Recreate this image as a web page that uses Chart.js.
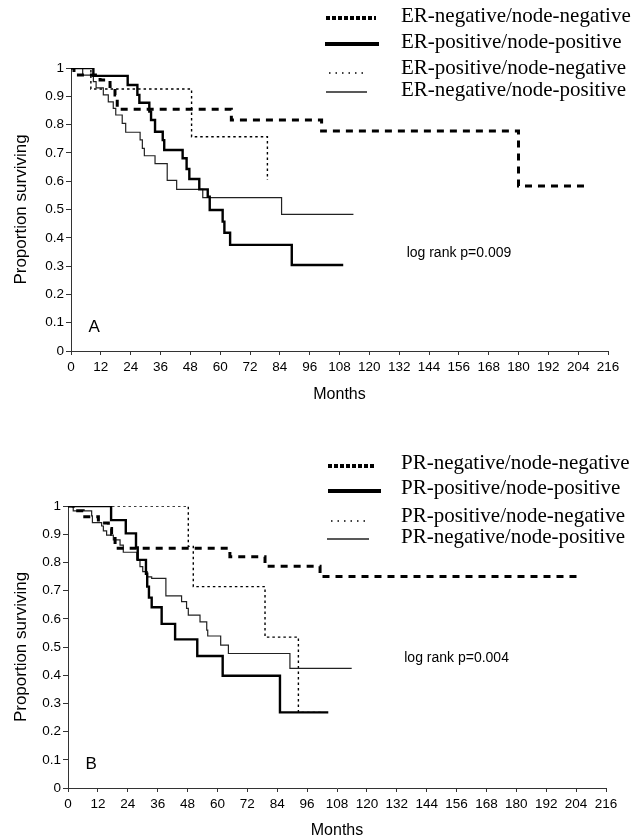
<!DOCTYPE html>
<html>
  <head>
    <meta charset="utf-8" />
    <script src="https://cdn.jsdelivr.net/npm/chart.js"></script>
    <title>Survival by receptor and node status</title>
    <style>
      body { margin: 0; background: #fff; }
      canvas { position: absolute; left: 0; }
      #panelA { top: 0; }
      #panelB { top: 420px; }
    </style>
  </head>
  <body>
    <canvas id="panelA" width="636" height="420"></canvas>
    <canvas id="panelB" width="636" height="420"></canvas>

    <script>
      // axis ticks
      var monthTicks = [0, 12, 24, 36, 48, 60, 72, 84, 96, 108, 120, 132, 144, 156, 168, 180, 192, 204, 216];
      var survTicks = [0, 0.1, 0.2, 0.3, 0.4, 0.5, 0.6, 0.7, 0.8, 0.9, 1];

      // panel A - ER status
      var panelALabels = ["ER-negative/node-negative", "ER-positive/node-positive", "ER-positive/node-negative", "ER-negative/node-positive"];
      var erNegNodeNegMonths = [0, 1.2, 11.7, 15.7, 17.7, 18.6, 64.5, 100.8, 180, 208];
      var erNegNodeNegSurv = [1, 0.975, 0.958, 0.935, 0.905, 0.854, 0.816, 0.777, 0.583, 0.583];
      var erPosNodePosMonths = [0, 9, 22.8, 26.7, 27.5, 31.5, 32.2, 33.8, 36.9, 37.5, 44.9, 46.5, 47.6, 51.6, 55, 55.8, 61, 61.7, 64, 88.8, 109.5];
      var erPosNodePosSurv = [1, 0.972, 0.94, 0.905, 0.877, 0.846, 0.816, 0.775, 0.745, 0.71, 0.681, 0.643, 0.608, 0.571, 0.545, 0.498, 0.457, 0.418, 0.375, 0.304, 0.304];
      var erPosNodeNegMonths = [0, 8, 48.5, 79];
      var erPosNodeNegSurv = [1, 0.926, 0.757, 0.604];
      var erNegNodePosMonths = [0, 4.7, 9, 10.1, 13, 15, 17, 18, 20.6, 22, 27.8, 28.7, 29.5, 33.8, 38.7, 42.5, 53, 84.7, 113.6];
      var erNegNodePosSurv = [1, 0.975, 0.952, 0.93, 0.905, 0.88, 0.857, 0.834, 0.804, 0.773, 0.746, 0.716, 0.69, 0.662, 0.603, 0.571, 0.542, 0.483, 0.483];

      // panel B - PR status
      var panelBLabels = ["PR-negative/node-negative", "PR-positive/node-positive", "PR-positive/node-negative", "PR-negative/node-positive"];
      var prNegNodeNegMonths = [0, 2.1, 6.1, 12.2, 16.2, 17.5, 18.9, 65, 79.1, 101.2, 205.5];
      var prNegNodeNegSurv = [1, 0.983, 0.962, 0.94, 0.92, 0.9, 0.85, 0.82, 0.786, 0.75, 0.75];
      var prPosNodePosMonths = [0, 17.3, 23.2, 27.3, 28, 31.3, 31.8, 32.5, 33.6, 37.6, 43, 51.9, 62.1, 85.1, 104.5];
      var prPosNodePosSurv = [1, 0.95, 0.903, 0.853, 0.809, 0.76, 0.714, 0.675, 0.641, 0.582, 0.527, 0.468, 0.398, 0.268, 0.268];
      var prPosNodeNegMonths = [0, 48.3, 50.3, 79.1, 92.5, 101.8];
      var prPosNodeNegSurv = [1, 0.857, 0.714, 0.535, 0.268, 0.268];
      var prNegNodePosMonths = [0, 2.1, 9.5, 9.8, 13.5, 14.2, 15.5, 18.2, 20.9, 22.2, 27.6, 28.9, 30, 31.8, 33.6, 39.3, 45.6, 47.6, 48.3, 53, 55.7, 56.1, 61.3, 64.4, 89.1, 113.9];
      var prNegNodePosSurv = [1, 0.983, 0.965, 0.941, 0.929, 0.912, 0.897, 0.88, 0.861, 0.836, 0.809, 0.785, 0.767, 0.749, 0.743, 0.681, 0.661, 0.637, 0.613, 0.589, 0.56, 0.539, 0.507, 0.477, 0.424, 0.424];

      var axisColor = "#333";
      var sansFont = "'Liberation Sans', Arial, sans-serif";
      var serifFont = "'Liberation Serif', 'Times New Roman', serif";

      // line looks (plot / legend sample)
      var heavyDash = { color: "#000", width: 3, dash: [7, 6], keyWidth: 4, keyDash: [4, 2] };
      var thickLine = { color: "#000", width: 2.4, dash: [], keyWidth: 4, keyDash: [] };
      var dotLine = { color: "#000", width: 1.4, dash: [2.5, 3], keyWidth: 1.5, keyDash: [1.5, 5] };
      var thinLine = { color: "#222", width: 1.2, dash: [], keyWidth: 1.5, keyDash: [] };

      function toPoints(months, surv) {
        return months.map(function (m, i) {
          return { x: m, y: surv[i] };
        });
      }

      function makeSet(label, months, surv, look, order) {
        return {
          label: label,
          data: toPoints(months, surv),
          borderColor: look.color,
          borderWidth: look.width,
          borderDash: look.dash,
          borderCapStyle: "butt",
          stepped: true,
          pointRadius: 0,
          fill: false,
          order: order,
          look: look,
        };
      }

      // legend rows + notes, drawn on top of the chart
      var overlay = {
        id: "overlay",
        afterDraw: function (chart, args, opts) {
          var ctx = chart.ctx;
          ctx.save();
          opts.rows.forEach(function (row, i) {
            var look = chart.data.datasets[i].look;
            ctx.beginPath();
            ctx.strokeStyle = look.color;
            ctx.lineWidth = look.keyWidth;
            ctx.setLineDash(look.keyDash);
            ctx.moveTo(row.x0, row.y);
            ctx.lineTo(row.x1, row.y);
            ctx.stroke();
            ctx.setLineDash([]);
            ctx.fillStyle = "#000";
            ctx.font = "21px " + serifFont;
            ctx.textBaseline = "middle";
            ctx.textAlign = "left";
            ctx.fillText(chart.data.datasets[i].label, opts.textX, row.textY);
          });
          var xs = chart.scales.x;
          var ys = chart.scales.y;
          ctx.font = "14px " + sansFont;
          ctx.fillText(opts.note, xs.getPixelForValue(135), ys.getPixelForValue(opts.noteAt));
          ctx.font = "17px " + sansFont;
          ctx.fillText(opts.letter, xs.getPixelForValue(7), ys.getPixelForValue(0.085));
          ctx.restore();
        },
      };

      function createGraph(elementId, datasets, box, extra) {
        var ctx = document.getElementById(elementId).getContext("2d");
        return new Chart(ctx, {
          type: "line",
          data: { datasets: datasets },
          plugins: [overlay],
          options: {
            responsive: false,
            animation: false,
            layout: { padding: { top: box.top, right: box.right, left: 0, bottom: 0 } },
            plugins: {
              legend: { display: false },
              tooltip: { enabled: false },
              overlay: extra,
            },
            scales: {
              x: {
                type: "linear",
                min: 0,
                max: 216,
                afterBuildTicks: function (s) {
                  s.ticks = monthTicks.map(function (v) { return { value: v }; });
                },
                afterFit: function (s) { s.height = box.xHeight; },
                grid: { drawOnChartArea: false, tickLength: 4, color: axisColor },
                border: { color: axisColor, width: 1 },
                ticks: { autoSkip: false, maxRotation: 0, padding: 4, color: "#000", font: { family: sansFont, size: 13.5 } },
                title: { display: true, text: "Months", color: "#000", font: { family: sansFont, size: 16 }, padding: { top: 0, bottom: box.titlePad } },
              },
              y: {
                min: 0,
                max: 1,
                afterBuildTicks: function (s) {
                  s.ticks = survTicks.map(function (v) { return { value: v }; });
                },
                afterFit: function (s) { s.width = box.yWidth; },
                grid: { drawOnChartArea: false, tickLength: 5, color: axisColor },
                border: { color: axisColor, width: 1 },
                ticks: {
                  padding: 2,
                  color: "#000",
                  font: { family: sansFont, size: 13.5 },
                  callback: function (v) { return String(Math.round(v * 10) / 10); },
                },
                title: { display: true, text: "Proportion surviving", color: "#000", font: { family: sansFont, size: 17 }, padding: { top: 11, bottom: 0 } },
              },
            },
          },
        });
      }

      // 그래프 A
      createGraph(
        "panelA",
        [
          makeSet(panelALabels[0], erNegNodeNegMonths, erNegNodeNegSurv, heavyDash, 1),
          makeSet(panelALabels[1], erPosNodePosMonths, erPosNodePosSurv, thickLine, 0),
          makeSet(panelALabels[2], erPosNodeNegMonths, erPosNodeNegSurv, dotLine, 3),
          makeSet(panelALabels[3], erNegNodePosMonths, erNegNodePosSurv, thinLine, 2),
        ],
        { top: 68, right: 28, xHeight: 69, yWidth: 71, titlePad: 16 },
        {
          textX: 401,
          rows: [
            { x0: 326, x1: 376, y: 18, textY: 16 },
            { x0: 325, x1: 379, y: 44, textY: 42 },
            { x0: 329, x1: 366, y: 73, textY: 68 },
            { x0: 326, x1: 367, y: 92, textY: 90 },
          ],
          note: "log rank p=0.009",
          noteAt: 0.345,
          letter: "A",
        }
      );

      // 그래프 B
      createGraph(
        "panelB",
        [
          makeSet(panelBLabels[0], prNegNodeNegMonths, prNegNodeNegSurv, heavyDash, 1),
          makeSet(panelBLabels[1], prPosNodePosMonths, prPosNodePosSurv, thickLine, 0),
          makeSet(panelBLabels[2], prPosNodeNegMonths, prPosNodeNegSurv, dotLine, 3),
          makeSet(panelBLabels[3], prNegNodePosMonths, prNegNodePosSurv, thinLine, 2),
        ],
        { top: 86, right: 30, xHeight: 52, yWidth: 68, titlePad: 0 },
        {
          textX: 401,
          rows: [
            { x0: 328, x1: 376, y: 46, textY: 43 },
            { x0: 328, x1: 381, y: 71, textY: 68 },
            { x0: 331, x1: 369, y: 101, textY: 96 },
            { x0: 327, x1: 369, y: 119, textY: 117 },
          ],
          note: "log rank p=0.004",
          noteAt: 0.46,
          letter: "B",
        }
      );
    </script>
  </body>
</html>
